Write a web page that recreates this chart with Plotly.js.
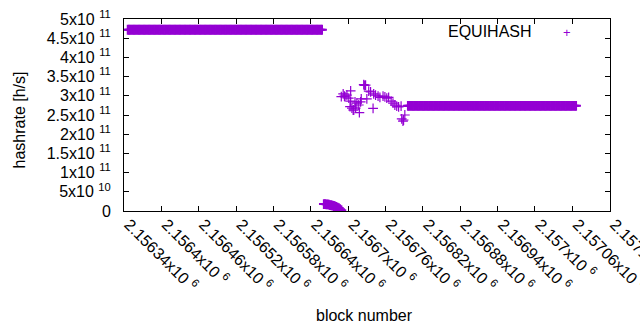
<!DOCTYPE html>
<html><head><meta charset="utf-8">
<script src="https://cdn.plot.ly/plotly-3.0.1.min.js"></script>
<style>html,body{margin:0;padding:0;background:#fff}#chart{width:640px;height:330px}</style>
</head><body><div id="chart"></div>
<script>
// ---- data: block number vs. hashrate [h/s] ----
const blocksHigh = [
2156346,2156348,2156350,2156352,2156354,2156356,2156358,2156360,2156362,2156364,
2156366,2156368,2156370,2156372,2156374,2156376,2156378,2156380,2156382,2156384,
2156386,2156388,2156390,2156392,2156394,2156396,2156398,2156400,2156402,2156404,
2156406,2156408,2156410,2156412,2156414,2156416,2156418,2156420,2156422,2156424,
2156426,2156428,2156430,2156432,2156434,2156436,2156438,2156440,2156442,2156444,
2156446,2156448,2156450,2156452,2156454,2156456,2156458,2156460,2156462,2156464,
2156466,2156468,2156470,2156472,2156474,2156476,2156478,2156480,2156482,2156484,
2156486,2156488,2156490,2156492,2156494,2156496,2156498,2156500,2156502,2156504,
2156506,2156508,2156510,2156512,2156514,2156516,2156518,2156520,2156522,2156524,
2156526,2156528,2156530,2156532,2156534,2156536,2156538,2156540,2156542,2156544,
2156546,2156548,2156550,2156552,2156554,2156556,2156558,2156560,2156562,2156564,
2156566,2156568,2156570,2156572,2156574,2156576,2156578,2156580,2156582,2156584,
2156586,2156588,2156590,2156592,2156594,2156596,2156598,2156600,2156602,2156604,
2156606,2156608,2156610,2156612,2156614,2156616,2156618,2156620,2156622,2156624,
2156626,2156628,2156630,2156632,2156634,2156636,2156638,2156640,2156642,2156644,
2156646,2156648,2156650,2156652,2156654,2156656,2156658];
const hashHigh = [
4.72e11,4.72e11,4.72e11,4.72e11,4.72e11,4.72e11,4.72e11,4.72e11,4.72e11,4.72e11,
4.72e11,4.72e11,4.72e11,4.72e11,4.72e11,4.72e11,4.72e11,4.72e11,4.72e11,4.72e11,
4.72e11,4.72e11,4.72e11,4.72e11,4.72e11,4.72e11,4.72e11,4.72e11,4.72e11,4.72e11,
4.72e11,4.72e11,4.72e11,4.72e11,4.72e11,4.72e11,4.72e11,4.72e11,4.72e11,4.72e11,
4.72e11,4.72e11,4.72e11,4.72e11,4.72e11,4.72e11,4.72e11,4.72e11,4.72e11,4.72e11,
4.72e11,4.72e11,4.72e11,4.72e11,4.72e11,4.72e11,4.72e11,4.72e11,4.72e11,4.72e11,
4.72e11,4.72e11,4.72e11,4.72e11,4.72e11,4.72e11,4.72e11,4.72e11,4.72e11,4.72e11,
4.72e11,4.72e11,4.72e11,4.72e11,4.72e11,4.72e11,4.72e11,4.72e11,4.72e11,4.72e11,
4.72e11,4.72e11,4.72e11,4.72e11,4.72e11,4.72e11,4.72e11,4.72e11,4.72e11,4.72e11,
4.72e11,4.72e11,4.72e11,4.72e11,4.72e11,4.72e11,4.72e11,4.72e11,4.72e11,4.72e11,
4.72e11,4.72e11,4.72e11,4.72e11,4.72e11,4.72e11,4.72e11,4.72e11,4.72e11,4.72e11,
4.72e11,4.72e11,4.72e11,4.72e11,4.72e11,4.72e11,4.72e11,4.72e11,4.72e11,4.72e11,
4.72e11,4.72e11,4.72e11,4.72e11,4.72e11,4.72e11,4.72e11,4.72e11,4.72e11,4.72e11,
4.72e11,4.72e11,4.72e11,4.72e11,4.72e11,4.72e11,4.72e11,4.72e11,4.72e11,4.72e11,
4.72e11,4.72e11,4.72e11,4.72e11,4.72e11,4.72e11,4.72e11,4.72e11,4.72e11,4.72e11,
4.72e11,4.72e11,4.72e11,4.72e11,4.72e11,4.72e11,4.72e11];

const blocksDrop = [2156661,2156663,2156665,2156667,2156669,2156671,2156673,2156675,2156677,2156679,2156681,2156683,2156685,2156687,2156689];
const hashDrop   = [1.8e10,1.8e10,1.75e10,1.7e10,1.65e10,1.55e10,1.5e10,1.4e10,1.3e10,1.2e10,1.05e10,0.9e10,0.75e10,0.45e10,0.2e10];

const blocksMid = [2156689,2156692,2156694,2156695,2156698,2156701,2156704,2156703,2156704,2156706,
                   2156708,2156709,2156711,2156712,2156714,2156717,2156718,2156720,2156721,2156725,
                   2156726,2156728,2156730,2156733,2156736,2156740,2156741,2156744,2156748,2156751,
                   2156756,2156759,2156762,2156765,2156769,2156772,2156775,2156778,2156781,2156785,
                   2156786,2156788,2156789,2156791];
const hashMid   = [2.98e11,3.05e11,2.99e11,2.97e11,3.02e11,2.94e11,3.13e11,2.72e11,2.86e11,2.68e11,
                   2.63e11,2.63e11,2.84e11,2.68e11,2.81e11,2.76e11,2.56e11,2.84e11,2.92e11,3.29e11,
                   3.27e11,3.28e11,2.92e11,3.12e11,3.10e11,2.67e11,3.05e11,3.02e11,2.99e11,2.96e11,
                   2.99e11,2.97e11,2.94e11,2.96e11,2.86e11,2.81e11,2.76e11,2.73e11,2.71e11,2.73e11,
                   2.40e11,2.34e11,2.37e11,2.50e11];

const blocksLow = [
2156796,2156798,2156800,2156802,2156804,2156806,2156808,2156810,2156812,2156814,
2156816,2156818,2156820,2156822,2156824,2156826,2156828,2156830,2156832,2156834,
2156836,2156838,2156840,2156842,2156844,2156846,2156848,2156850,2156852,2156854,
2156856,2156858,2156860,2156862,2156864,2156866,2156868,2156870,2156872,2156874,
2156876,2156878,2156880,2156882,2156884,2156886,2156888,2156890,2156892,2156894,
2156896,2156898,2156900,2156902,2156904,2156906,2156908,2156910,2156912,2156914,
2156916,2156918,2156920,2156922,2156924,2156926,2156928,2156930,2156932,2156934,
2156936,2156938,2156940,2156942,2156944,2156946,2156948,2156950,2156952,2156954,
2156956,2156958,2156960,2156962,2156964,2156966,2156968,2156970,2156972,2156974,
2156976,2156978,2156980,2156982,2156984,2156986,2156988,2156990,2156992,2156994,
2156996,2156998,2157000,2157002,2157004,2157006,2157008,2157010,2157012,2157014,
2157016,2157018,2157020,2157022,2157024,2157026,2157028,2157030,2157032,2157034,
2157036,2157038,2157040,2157042,2157044,2157046,2157048,2157050,2157052,2157054,
2157056,2157058,2157060,2157062,2157064,2157066];
const hashLow = [
2.74e11,2.74e11,2.74e11,2.74e11,2.74e11,2.74e11,2.74e11,2.74e11,2.74e11,2.74e11,
2.74e11,2.74e11,2.74e11,2.74e11,2.74e11,2.74e11,2.74e11,2.74e11,2.74e11,2.74e11,
2.74e11,2.74e11,2.74e11,2.74e11,2.74e11,2.74e11,2.74e11,2.74e11,2.74e11,2.74e11,
2.74e11,2.74e11,2.74e11,2.74e11,2.74e11,2.74e11,2.74e11,2.74e11,2.74e11,2.74e11,
2.74e11,2.74e11,2.74e11,2.74e11,2.74e11,2.74e11,2.74e11,2.74e11,2.74e11,2.74e11,
2.74e11,2.74e11,2.74e11,2.74e11,2.74e11,2.74e11,2.74e11,2.74e11,2.74e11,2.74e11,
2.74e11,2.74e11,2.74e11,2.74e11,2.74e11,2.74e11,2.74e11,2.74e11,2.74e11,2.74e11,
2.74e11,2.74e11,2.74e11,2.74e11,2.74e11,2.74e11,2.74e11,2.74e11,2.74e11,2.74e11,
2.74e11,2.74e11,2.74e11,2.74e11,2.74e11,2.74e11,2.74e11,2.74e11,2.74e11,2.74e11,
2.74e11,2.74e11,2.74e11,2.74e11,2.74e11,2.74e11,2.74e11,2.74e11,2.74e11,2.74e11,
2.74e11,2.74e11,2.74e11,2.74e11,2.74e11,2.74e11,2.74e11,2.74e11,2.74e11,2.74e11,
2.74e11,2.74e11,2.74e11,2.74e11,2.74e11,2.74e11,2.74e11,2.74e11,2.74e11,2.74e11,
2.74e11,2.74e11,2.74e11,2.74e11,2.74e11,2.74e11,2.74e11,2.74e11,2.74e11,2.74e11,
2.74e11,2.74e11,2.74e11,2.74e11,2.74e11,2.74e11];

// ---- tick labels ----
const xTickVals = [2156340,2156400,2156460,2156520,2156580,2156640,2156700,2156760,2156820,2156880,2156940,2157000,2157060,2157120];
const xTickMant = ['2.15634','2.1564','2.15646','2.15652','2.15658','2.15664','2.1567','2.15676','2.15682','2.15688','2.15694','2.157','2.15706','2.15712'];
const yTickVals = [0,5e10,1e11,1.5e11,2e11,2.5e11,3e11,3.5e11,4e11,4.5e11,5e11];
const yTickText = ['0','5x10 <sup>10</sup>','1x10 <sup>11</sup>','1.5x10 <sup>11</sup>','2x10 <sup>11</sup>','2.5x10 <sup>11</sup>','3x10 <sup>11</sup>','3.5x10 <sup>11</sup>','4x10 <sup>11</sup>','4.5x10 <sup>11</sup>','5x10 <sup>11</sup>'];
const seriesName = 'EQUIHASH';

const xTickText = xTickMant.map(m => m + 'x10 <sup>6</sup>');

const PURPLE = '#9400d3';
const FONT = '"Liberation Sans", Arial, sans-serif';

// dense runs: thicker strokes so the overlapping crosses read as a solid band
const denseTrace = {
  type: 'scatter', mode: 'markers', name: seriesName,
  x: [].concat(blocksHigh, blocksDrop, blocksLow),
  y: [].concat(hashHigh, hashDrop, hashLow),
  marker: {symbol: 'cross-thin', size: 7, color: PURPLE, line: {color: PURPLE, width: 2}}
};
const sparseTrace = {
  type: 'scatter', mode: 'markers', name: seriesName,
  x: blocksMid, y: hashMid,
  marker: {symbol: 'cross-thin', size: 7, color: PURPLE, line: {color: PURPLE, width: 1.2}}
};

const axisCommon = {
  ticks: 'inside', ticklen: 5, tickcolor: '#000', tickwidth: 1,
  showline: true, linecolor: '#000', linewidth: 1, mirror: 'allticks',
  showgrid: false, zeroline: false, automargin: false,
  ticklabeloverflow: 'allow',
  tickfont: {family: FONT, size: 16, color: '#000'}
};

const layout = {
  width: 640, height: 330,
  margin: {l: 124, r: 30, t: 19, b: 119, pad: 0},
  paper_bgcolor: '#fff', plot_bgcolor: '#fff',
  showlegend: false,
  font: {family: FONT, size: 16, color: '#000'},
  xaxis: Object.assign({}, axisCommon, {
    range: [2156340, 2157120.5], tickmode: 'array', tickvals: xTickVals, ticktext: xTickText,
    tickangle: 45, ticklabelshift: 5, ticklabelstandoff: -3
  }),
  yaxis: Object.assign({}, axisCommon, {
    range: [0, 5e11], tickmode: 'array', tickvals: yTickVals, ticktext: yTickText,
    ticklabelstandoff: 9
  }),
  annotations: [
    {text: 'hashrate [h/s]', xref: 'paper', yref: 'paper', x: -0.213, y: 0.474,
     xanchor: 'center', yanchor: 'middle', textangle: -90, showarrow: false,
     font: {family: FONT, size: 16, color: '#000'}},
    {text: 'block number', xref: 'paper', yref: 'paper', x: 0.494, y: -0.542,
     xanchor: 'center', yanchor: 'middle', showarrow: false,
     font: {family: FONT, size: 16, color: '#000'}},
    {text: seriesName, xref: 'paper', yref: 'paper', x: 0.844, y: 0.935,
     xanchor: 'right', yanchor: 'middle', showarrow: false,
     font: {family: FONT, size: 16, color: '#000'}},
    {text: '+', xref: 'paper', yref: 'paper', x: 0.9115, y: 0.93,
     xanchor: 'center', yanchor: 'middle', showarrow: false,
     font: {family: FONT, size: 13, color: PURPLE}}
  ]
};

Plotly.newPlot('chart', [denseTrace, sparseTrace], layout, {displayModeBar: false, staticPlot: true});
</script></body></html>
